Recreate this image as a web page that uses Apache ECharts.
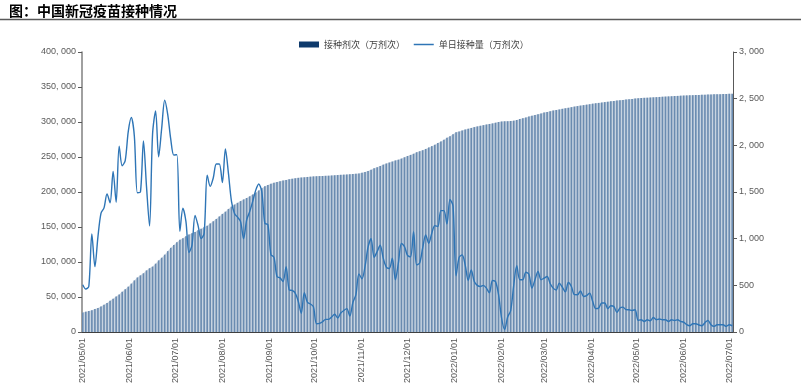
<!DOCTYPE html>
<html>
<head>
<meta charset="utf-8">
<script src="https://cdn.jsdelivr.net/npm/echarts@6/dist/echarts.min.js"></script>
<style>html,body{margin:0;padding:0;background:#fff}#c{width:801px;height:390px}</style>
</head>
<body>
<div id="c"></div>
<script>
// Cumulative doses (万剂次), one value every 2 days starting 2021/05/01
const cumDoses = [
28000,29000,29900,30900,33000,34400,36400,38900,41600,44600,47400,50800,53600,57500,61100,64800,
69100,73700,77900,80900,83900,88000,91100,93400,97600,102300,106100,110500,115500,120200,124300,128100,
131900,134100,136800,139200,140900,142800,145300,147600,149600,151700,155100,158200,161500,165100,168700,
171900,175800,179200,182000,184500,187000,189400,191400,193800,196400,199200,202200,205400,208200,210000,
211800,213200,214400,215400,216300,217200,218200,218900,219600,220200,220700,221000,221500,221900,222300,
222500,222700,222900,223100,223300,223600,223900,224200,224500,224800,225100,225400,225700,226100,226400,
227600,228700,230100,231900,233900,235500,237200,239100,240700,242100,243500,245100,246200,247700,249600,251400,
253000,254600,256800,258200,259700,261500,263600,265500,267600,269900,272200,274800,277400,279700,282500,285200,
286300,287700,289200,290500,291500,292700,293700,294600,295500,296400,297200,298000,299000,300000,300700,
301000,301100,301400,301900,302900,304300,305400,306500,307800,309000,309900,311000,312300,313400,
314400,315400,316300,317100,317900,318800,319600,320300,321200,322000,322700,323400,324100,324800,325400,
326200,326800,327300,327800,328400,329000,329500,330100,330600,331000,331500,332000,332500,333000,333500,
334000,334200,334500,334700,335000,335200,335500,335800,336100,336300,336600,336800,337100,337300,337600,337800,
338000,338200,338300,338500,338700,338800,339000,339200,339400,339500,339700,339800,340000,340100,340300,340400
];
// Daily doses (万剂次), same dates
const dailyDoses = [
506,460,490,1051,700,1020,1272,1330,1480,1385,1720,1390,1990,1780,1840,2150,
2298,2098,1492,1500,2048,1560,1136,2120,2369,1877,2180,2483,2330,2063,1895,1900,
1080,1326,1182,851,930,1250,1140,1000,1060,1680,1560,1650,1800,1800,1600,
1960,1700,1400,1270,1230,1182,1000,1200,1290,1400,1520,1585,1500,1165,1150,
830,800,594,580,541,700,452,445,417,330,200,420,320,300,270,
89,92,110,135,135,160,190,150,203,230,250,170,316,400,623,
570,700,909,1000,800,862,930,791,695,680,791,559,740,950,915,820,
805,1075,720,738,900,1040,950,1058,1140,1129,1300,1300,1158,1420,1350,602,
800,826,720,552,666,540,500,487,500,470,420,552,540,400,150,
25,160,230,500,710,560,560,640,620,470,559,650,560,577,
594,520,470,450,524,480,430,530,487,400,399,440,381,390,417,
330,250,257,310,310,250,281,274,210,257,267,240,238,231,238,
125,131,113,131,120,155,131,140,131,131,113,131,124,131,113,105,
80,67,89,89,75,67,100,125,78,60,78,78,78,60,78,67
];
const leftAxis = {min: 0, max: 400000, interval: 50000};
const rightAxis = {min: 0, max: 3000, interval: 500};
const seriesNames = ['接种剂次（万剂次）', '单日接种量（万剂次）'];
const titleText = '图：中国新冠疫苗接种情况';

// daily category axis 2021/05/01 .. 2022/07/03
const dates = [];
const start = Date.UTC(2021, 4, 1);
for (let i = 0; i < 429; i++) {
  const d = new Date(start + i * 86400000);
  const p = n => (n < 10 ? '0' : '') + n;
  dates.push(d.getUTCFullYear() + '/' + p(d.getUTCMonth() + 1) + '/' + p(d.getUTCDate()));
}
const barData = dates.map((d, i) => (i % 2 === 0 ? cumDoses[i / 2] : null));
const lineData = dates.map((d, i) => (i % 2 === 0 ? dailyDoses[i / 2] : null));
const isMonthStart = (idx, val) => val.slice(-3) === '/01';
const fmt = v => String(v).replace(/\B(?=(\d{3})+(?!\d))/g, ', ');

const labelStyle = {fontSize: 9, color: '#595959', fontFamily: 'Liberation Sans'};
const chart = echarts.init(document.getElementById('c'), null, {renderer: 'canvas'});
chart.setOption({
  animation: false,
  backgroundColor: '#fff',
  title: {text: titleText, left: 4, top: -1,
    textStyle: {fontSize: 14, fontWeight: 'bold', color: '#000', fontFamily: 'Noto Sans CJK SC'}},
  graphic: [{type: 'line', shape: {x1: 0, y1: 19.5, x2: 801, y2: 19.5},
    style: {stroke: '#595959', lineWidth: 1.5}}],
  legend: {top: 35, left: 294, itemWidth: 20, itemHeight: 6, itemGap: 8,
    textStyle: {fontSize: 9, color: '#404040', fontFamily: 'Noto Sans CJK SC'},
    data: [{name: seriesNames[0], icon: 'rect', itemStyle: {color: '#0e3a6c'}},
           {name: seriesNames[1], itemStyle: {opacity: 0, borderWidth: 0},
            lineStyle: {color: '#2e75b6', width: 1.5}}]},
  grid: {left: 82, right: 68, top: 52, bottom: 58},
  xAxis: {type: 'category', data: dates, boundaryGap: true,
    axisLine: {lineStyle: {color: '#404040', width: 1}},
    axisTick: {interval: isMonthStart, length: 4, lineStyle: {color: '#595959'}},
    axisLabel: Object.assign({interval: isMonthStart, rotate: 90, margin: 6}, labelStyle)},
  yAxis: [
    Object.assign({type: 'value', splitLine: {show: false},
      axisLine: {show: true, lineStyle: {color: '#808080', width: 1.5}},
      axisTick: {show: true, length: 4, lineStyle: {color: '#595959'}},
      axisLabel: Object.assign({formatter: fmt, margin: 6}, labelStyle)}, leftAxis),
    Object.assign({type: 'value', position: 'right', splitLine: {show: false},
      axisLine: {show: true, lineStyle: {color: '#595959', width: 1}},
      axisTick: {show: true, length: 4, lineStyle: {color: '#595959'}},
      axisLabel: Object.assign({formatter: fmt, margin: 6}, labelStyle)}, rightAxis)
  ],
  series: [
    {name: '_fill', type: 'line', data: barData, connectNulls: true, symbol: 'none',
      lineStyle: {width: 0}, areaStyle: {color: '#c8d4e1', opacity: 1}, silent: true, z: 1},
    {name: seriesNames[0], type: 'bar', data: barData, barWidth: 1.6,
      itemStyle: {color: '#6a8bb0'}, z: 2},
    {name: seriesNames[1], type: 'line', yAxisIndex: 1, data: lineData, connectNulls: true,
      symbol: 'none', showSymbol: false, smooth: 0.3, lineStyle: {color: '#2e75b6', width: 1.4},
      itemStyle: {color: '#2e75b6'}, z: 3}
  ]
});
</script>
</body>
</html>
